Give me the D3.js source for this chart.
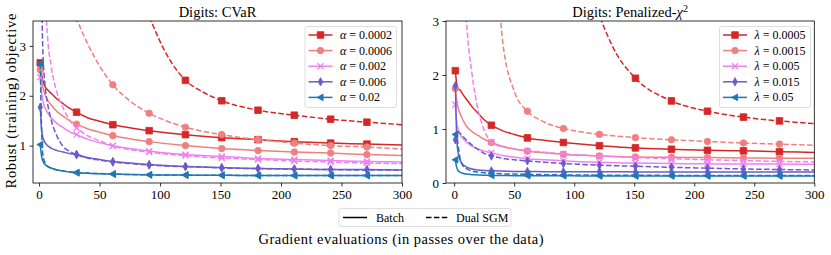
<!DOCTYPE html>
<html>
<head>
<meta charset="utf-8">
<script src="https://cdn.jsdelivr.net/npm/d3@7"></script>
<style>
  body { margin: 0; background: #fff; }
  svg text { font-family: "Liberation Serif", "Times New Roman", serif; fill: #000; }
  .tick text { font-size: 13px; }
  .domain { display: none; }
</style>
</head>
<body>
<svg id="chart"></svg>
<script>
// shared sample grid (gradient evaluations) and marker positions
var xGrid = [1, 2, 3, 5, 7, 10, 15, 20, 25, 31, 40, 50, 61, 75, 91, 105, 121, 135, 151, 181, 211, 241, 271, 300];
var markerX = [1, 31, 61, 91, 121, 151, 181, 211, 241, 271];
var xTicks = [0, 50, 100, 150, 200, 250, 300];

// CVaR panel
var cvarLabels = ['0.0002', '0.0006', '0.002', '0.006', '0.02'];
var cvarBatch0002 = [2.66, 2.45, 2.32, 2.18, 2.12, 2.05, 1.93, 1.84, 1.75, 1.67, 1.56, 1.49, 1.42, 1.36, 1.30, 1.26, 1.22, 1.19, 1.16, 1.12, 1.08, 1.05, 1.03, 1.01];
var cvarBatch0006 = [2.52, 2.30, 2.18, 2.02, 1.92, 1.82, 1.68, 1.59, 1.50, 1.43, 1.34, 1.27, 1.20, 1.14, 1.08, 1.04, 1.00, 0.97, 0.94, 0.90, 0.87, 0.85, 0.82, 0.80];
var cvarBatch002 = [2.37, 2.10, 1.92, 1.76, 1.66, 1.56, 1.44, 1.36, 1.28, 1.22, 1.13, 1.06, 1.00, 0.94, 0.89, 0.85, 0.82, 0.80, 0.78, 0.74, 0.72, 0.70, 0.68, 0.67];
var cvarBatch006 = [1.77, 1.35, 1.18, 1.06, 1.00, 0.95, 0.90, 0.87, 0.84, 0.82, 0.76, 0.72, 0.68, 0.65, 0.62, 0.60, 0.58, 0.57, 0.56, 0.54, 0.53, 0.52, 0.52, 0.51];
var cvarBatch02 = [1.02, 0.80, 0.70, 0.62, 0.58, 0.55, 0.51, 0.49, 0.47, 0.455, 0.445, 0.435, 0.43, 0.42, 0.415, 0.41, 0.41, 0.405, 0.405, 0.40, 0.40, 0.40, 0.40, 0.40];
var cvarDual0002 = [150, 100, 75, 48, 36, 27, 19, 15, 12.5, 10.5, 8.5, 7.0, 5.8, 4.7, 3.6, 2.85, 2.31, 2.08, 1.90, 1.71, 1.61, 1.53, 1.47, 1.42];
var cvarDual0006 = [30, 20, 15, 10.5, 8.5, 6.8, 5.3, 4.5, 4.0, 3.56, 3.05, 2.6, 2.22, 1.90, 1.65, 1.50, 1.37, 1.29, 1.22, 1.12, 1.05, 1.00, 0.97, 0.93];
var cvarDual002 = [20, 10, 7, 4.2, 3.2, 2.6, 2.05, 1.75, 1.52, 1.36, 1.2, 1.1, 0.99, 0.92, 0.87, 0.83, 0.80, 0.77, 0.75, 0.72, 0.69, 0.67, 0.65, 0.64];
var cvarDual006 = [5, 4.2, 3.0, 2.2, 1.85, 1.52, 1.18, 0.98, 0.89, 0.82, 0.75, 0.71, 0.67, 0.64, 0.61, 0.59, 0.58, 0.57, 0.55, 0.54, 0.53, 0.52, 0.51, 0.51];
var cvarDual02 = [2.65, 1.40, 0.85, 0.65, 0.59, 0.55, 0.51, 0.49, 0.475, 0.46, 0.45, 0.44, 0.43, 0.42, 0.415, 0.41, 0.41, 0.405, 0.405, 0.40, 0.40, 0.40, 0.40, 0.40];
var cvarYTicks = [1, 2, 3];

// penalized chi^2 panel
var chiLabels = ['0.0005', '0.0015', '0.005', '0.015', '0.05'];
var chiBatch0005 = [2.08, 1.85, 1.75, 1.72, 1.65, 1.56, 1.41, 1.29, 1.17, 1.07, 0.97, 0.90, 0.835, 0.79, 0.75, 0.72, 0.69, 0.67, 0.65, 0.625, 0.605, 0.595, 0.58, 0.565];
var chiBatch0015 = [1.75, 1.55, 1.42, 1.28, 1.18, 1.06, 0.95, 0.88, 0.81, 0.75, 0.68, 0.63, 0.59, 0.56, 0.53, 0.515, 0.50, 0.49, 0.48, 0.475, 0.47, 0.465, 0.46, 0.46];
var chiBatch005 = [1.45, 1.15, 1.02, 0.90, 0.83, 0.76, 0.68, 0.63, 0.59, 0.56, 0.51, 0.48, 0.45, 0.43, 0.41, 0.395, 0.385, 0.375, 0.37, 0.36, 0.355, 0.35, 0.35, 0.345];
var chiBatch015 = [1.80, 0.90, 0.60, 0.42, 0.35, 0.30, 0.26, 0.24, 0.23, 0.225, 0.22, 0.215, 0.215, 0.21, 0.21, 0.21, 0.21, 0.21, 0.205, 0.205, 0.205, 0.205, 0.205, 0.205];
var chiBatch05 = [0.43, 0.30, 0.24, 0.20, 0.18, 0.165, 0.155, 0.15, 0.145, 0.14, 0.14, 0.135, 0.135, 0.135, 0.135, 0.13, 0.13, 0.13, 0.13, 0.13, 0.13, 0.13, 0.13, 0.13];
var chiDual0005 = [300, 200, 150, 90, 70, 50, 35, 27, 22, 18, 14, 11, 9, 7, 5.3, 4.2, 3.1, 2.4, 1.94, 1.52, 1.33, 1.22, 1.15, 1.10];
var chiDual0015 = [60, 45, 35, 25, 20, 15, 11, 8.5, 7, 6, 2.7, 1.7, 1.33, 1.13, 1.01, 0.95, 0.90, 0.87, 0.84, 0.80, 0.77, 0.74, 0.72, 0.70];
var chiDual005 = [18, 12, 9, 6, 4.5, 3.1, 2.0, 1.35, 0.98, 0.76, 0.67, 0.63, 0.60, 0.57, 0.54, 0.52, 0.50, 0.485, 0.47, 0.45, 0.43, 0.415, 0.40, 0.39];
var chiDual015 = [0.80, 0.92, 0.95, 0.92, 0.87, 0.80, 0.70, 0.62, 0.55, 0.50, 0.46, 0.43, 0.41, 0.385, 0.36, 0.345, 0.33, 0.32, 0.31, 0.29, 0.275, 0.26, 0.25, 0.24];
var chiDual05 = [0.90, 0.93, 0.75, 0.45, 0.33, 0.27, 0.22, 0.20, 0.19, 0.18, 0.17, 0.165, 0.16, 0.155, 0.15, 0.15, 0.145, 0.145, 0.145, 0.14, 0.14, 0.14, 0.14, 0.14];
var chiYTicks = [0, 1, 2, 3];

var colors = ['#d62728', '#f08080', '#ee82ee', '#6a5acd', '#1f77b4'];
var markers = ['square', 'circle', 'x', 'thin_diamond', 'tri_left'];
var serif = '"Liberation Serif", "Times New Roman", serif';

var svg = d3.select('#chart')
  .attr('width', 831)
  .attr('height', 255)
  .attr('font-family', serif);

svg.append('rect').attr('width', 831).attr('height', 255).style('fill', '#fff');

function markerPath(type) {
  if (type === 'square') return 'M-3.3,-3.3H3.3V3.3H-3.3Z';
  if (type === 'circle') return d3.symbol(d3.symbolCircle, 34)();
  if (type === 'x') return 'M-3,-3L3,3M-3,3L3,-3';
  if (type === 'thin_diamond') return 'M0,-4.2L2.2,0L0,4.2L-2.2,0Z';
  return 'M-3.4,0L2.6,-3.4L2.6,3.4Z';
}

function drawMarker(sel, type, color) {
  sel.append('path')
    .attr('d', markerPath(type))
    .style('fill', type === 'x' ? 'none' : color)
    .style('stroke', color)
    .style('stroke-width', type === 'x' ? 1.3 : 0.8);
}

function panel(opts) {
  var g = svg.append('g');
  var x = d3.scaleLinear().domain(opts.xDomain).range([opts.left, opts.right]);
  var y = d3.scaleLinear().domain(opts.yDomain).range([opts.bottom, opts.top]);

  var clipId = 'clip-' + opts.id;
  svg.append('clipPath').attr('id', clipId)
    .append('rect')
    .attr('x', opts.left).attr('y', opts.top)
    .attr('width', opts.right - opts.left)
    .attr('height', opts.bottom - opts.top);

  var plot = g.append('g').attr('clip-path', 'url(#' + clipId + ')');

  var line = d3.line()
    .x(function(d) { return x(d[0]); })
    .y(function(d) { return y(d[1]); })
    .curve(d3.curveMonotoneX);

  opts.series.forEach(function(s) {
    var pts = xGrid.map(function(xv, i) { return [xv, s.values[i]]; });
    plot.append('path')
      .datum(pts)
      .attr('d', line)
      .style('fill', 'none')
      .style('stroke', colors[s.idx])
      .style('stroke-width', 1.5)
      .style('stroke-dasharray', s.dashed ? '5.5,2.4' : null);
    pts.filter(function(p) { return markerX.indexOf(p[0]) >= 0; })
      .forEach(function(p) {
        var m = plot.append('g')
          .attr('transform', 'translate(' + x(p[0]) + ',' + y(p[1]) + ')');
        drawMarker(m, markers[s.idx], colors[s.idx]);
      });
  });

  var xAxis = d3.axisBottom(x).tickValues(xTicks).tickFormat(d3.format('d'))
    .tickSize(3.5).tickPadding(3.5).tickSizeOuter(0);
  var yAxis = d3.axisLeft(y).tickValues(opts.yTicks).tickFormat(d3.format('d'))
    .tickSize(3.5).tickPadding(3.5).tickSizeOuter(0);

  g.append('g').attr('class', 'axis x')
    .attr('transform', 'translate(0,' + opts.bottom + ')')
    .call(xAxis)
    .attr('font-family', serif)
    .attr('font-size', 13);
  g.append('g').attr('class', 'axis y')
    .attr('transform', 'translate(' + opts.left + ',0)')
    .call(yAxis)
    .attr('font-family', serif)
    .attr('font-size', 13);
  g.selectAll('.tick line').style('stroke', '#000').style('stroke-width', 0.8);

  g.append('rect')
    .attr('x', opts.left).attr('y', opts.top)
    .attr('width', opts.right - opts.left)
    .attr('height', opts.bottom - opts.top)
    .style('fill', 'none')
    .style('stroke', '#000')
    .style('stroke-width', 0.8);

  // title
  var title = g.append('text')
    .attr('x', (opts.left + opts.right) / 2)
    .attr('y', 16.5)
    .style('text-anchor', 'middle')
    .style('font-size', '14.5px');
  opts.title(title);

  // legend
  var lg = g.append('g').attr('transform', 'translate(' + opts.legendX + ',' + 26.5 + ')');
  lg.append('rect')
    .attr('width', opts.legendW).attr('height', 81)
    .attr('rx', 2.5)
    .style('fill', 'rgba(255,255,255,0.8)')
    .style('stroke', '#d5d5d5')
    .style('stroke-width', 0.8);
  opts.labels.forEach(function(lab, i) {
    var ly = 8.5 + i * 15.6;
    lg.append('line')
      .attr('x1', 3.5).attr('x2', 27.5)
      .attr('y1', ly).attr('y2', ly)
      .style('stroke', colors[i])
      .style('stroke-width', 1.5);
    var m = lg.append('g').attr('transform', 'translate(15.5,' + ly + ')');
    drawMarker(m, markers[i], colors[i]);
    var t = lg.append('text')
      .attr('x', 35).attr('y', ly + 4)
      .style('font-size', '12px');
    t.append('tspan').style('font-style', 'italic').text(opts.symbol);
    t.append('tspan').text(' = ' + lab);
  });

  return g;
}

panel({
  id: 'cvar',
  left: 33, right: 402, top: 21, bottom: 183,
  xDomain: [-5, 300], yDomain: [0.25, 3.5],
  yTicks: cvarYTicks,
  labels: cvarLabels, symbol: 'α',
  legendX: 305, legendW: 91.5,
  title: function(t) { t.text('Digits: CVaR'); },
  series: [
    {idx: 0, values: cvarBatch0002}, {idx: 1, values: cvarBatch0006}, {idx: 2, values: cvarBatch002},
    {idx: 3, values: cvarBatch006}, {idx: 4, values: cvarBatch02},
    {idx: 0, values: cvarDual0002, dashed: true}, {idx: 1, values: cvarDual0006, dashed: true},
    {idx: 2, values: cvarDual002, dashed: true}, {idx: 3, values: cvarDual006, dashed: true},
    {idx: 4, values: cvarDual02, dashed: true}
  ]
});

panel({
  id: 'chi',
  left: 446, right: 814.3, top: 21, bottom: 183,
  xDomain: [-6.8, 300], yDomain: [0, 3],
  yTicks: chiYTicks,
  labels: chiLabels, symbol: 'λ',
  legendX: 719.5, legendW: 91,
  title: function(t) {
    t.append('tspan').text('Digits: Penalized-');
    t.append('tspan').style('font-style', 'italic').text('χ');
    t.append('tspan').attr('dy', -5).style('font-size', '10px').text('2');
  },
  series: [
    {idx: 0, values: chiBatch0005}, {idx: 1, values: chiBatch0015}, {idx: 2, values: chiBatch005},
    {idx: 3, values: chiBatch015}, {idx: 4, values: chiBatch05},
    {idx: 0, values: chiDual0005, dashed: true}, {idx: 1, values: chiDual0015, dashed: true},
    {idx: 2, values: chiDual005, dashed: true}, {idx: 3, values: chiDual015, dashed: true},
    {idx: 4, values: chiDual05, dashed: true}
  ]
});

// y axis label
svg.append('text')
  .attr('transform', 'translate(16,101) rotate(-90)')
  .style('text-anchor', 'middle')
  .style('font-size', '14.5px')
  .attr('textLength', 175)
  .text('Robust (training) objective');

// bottom legend
var bl = svg.append('g').attr('transform', 'translate(339,208.5)');
bl.append('rect')
  .attr('width', 172).attr('height', 18)
  .attr('rx', 2.5)
  .style('fill', '#fff')
  .style('stroke', '#d5d5d5')
  .style('stroke-width', 0.8);
bl.append('line').attr('x1', 4).attr('x2', 28).attr('y1', 9).attr('y2', 9)
  .style('stroke', '#000').style('stroke-width', 1.5);
bl.append('text').attr('x', 37).attr('y', 13).style('font-size', '12px').text('Batch');
bl.append('line').attr('x1', 87).attr('x2', 109).attr('y1', 9).attr('y2', 9)
  .style('stroke', '#000').style('stroke-width', 1.5)
  .style('stroke-dasharray', '5.5,2.4');
bl.append('text').attr('x', 117).attr('y', 13).style('font-size', '12px').text('Dual SGM');

// x axis label
svg.append('text')
  .attr('x', 401)
  .attr('y', 244)
  .style('text-anchor', 'middle')
  .style('font-size', '14.5px')
  .attr('textLength', 285)
  .text('Gradient evaluations (in passes over the data)');
</script>
</body>
</html>
